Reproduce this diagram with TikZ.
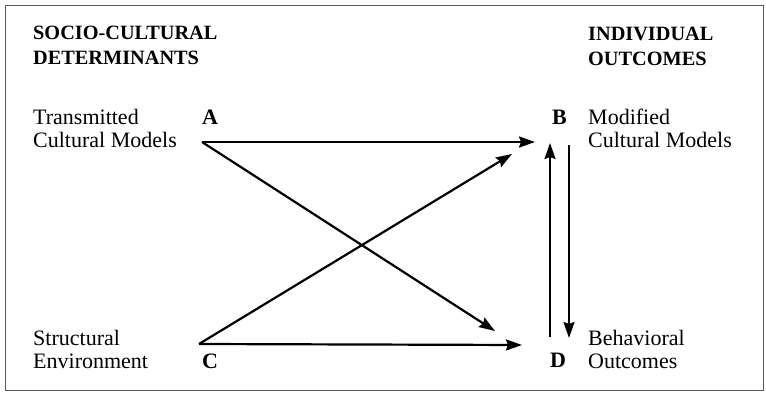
\documentclass[tikz,border=0pt]{standalone}
\usepackage{fontspec}
\setmainfont{Liberation Serif}
\usetikzlibrary{arrows.meta}

\begin{document}
\begin{tikzpicture}[x=1pt, y=-1pt,
  head/.style={anchor=base west, inner sep=0pt, align=left, font=\bfseries\fontsize{20.3}{25}\selectfont},
  txt/.style={anchor=base west, inner sep=0pt, align=left, font=\fontsize{22}{23}\selectfont},
  letter/.style={anchor=base west, inner sep=0pt, font=\bfseries\fontsize{22}{24}\selectfont},
  link/.style={line width=2.2pt, -{Stealth[length=16pt, width=11pt, inset=2pt]}}]
  \useasboundingbox (0,0) rectangle (766,393);
  \draw[black!65, line width=0.9pt] (5,5) rectangle (763,390);

  % column headings (base = last line)
  \node[head] (detlab) at (33,65) {SOCIO-CULTURAL\\DETERMINANTS};
  \node[head] (outlab) at (588,66) {INDIVIDUAL\\OUTCOMES};

  % the four variables
  \node[txt] (atext) at (33,148) {Transmitted\\Cultural Models};
  \node[txt] (ctext) at (33,368) {Structural\\Environment};
  \node[txt] (btext) at (588,148) {Modified\\Cultural Models};
  \node[txt] (dtext) at (588,368) {Behavioral\\Outcomes};
  \node[letter] (A) at (202,125) {A};
  \node[letter] (B) at (552,125) {B};
  \node[letter] (C) at (202,368) {C};
  \node[letter] (D) at (550,367) {D};

  % arrow ends
  \coordinate (aout) at (202,142);
  \coordinate (cout) at (199,344);
  \coordinate (bin) at (535,142);
  \coordinate (bcross) at (512,154);
  \coordinate (dcross) at (495,331);
  \coordinate (din) at (522,345);
  \coordinate (dup) at (550,337);
  \coordinate (bup) at (550,143);
  \coordinate (bdown) at (569,145);
  \coordinate (ddown) at (569,338);

  \draw[link] (aout) -- (bin);
  \draw[link] (aout) -- (dcross);
  \draw[link] (cout) -- (bcross);
  \draw[link] (cout) -- (din);
  \draw[link] (dup) -- (bup);
  \draw[link] (bdown) -- (ddown);
\end{tikzpicture}
\end{document}
